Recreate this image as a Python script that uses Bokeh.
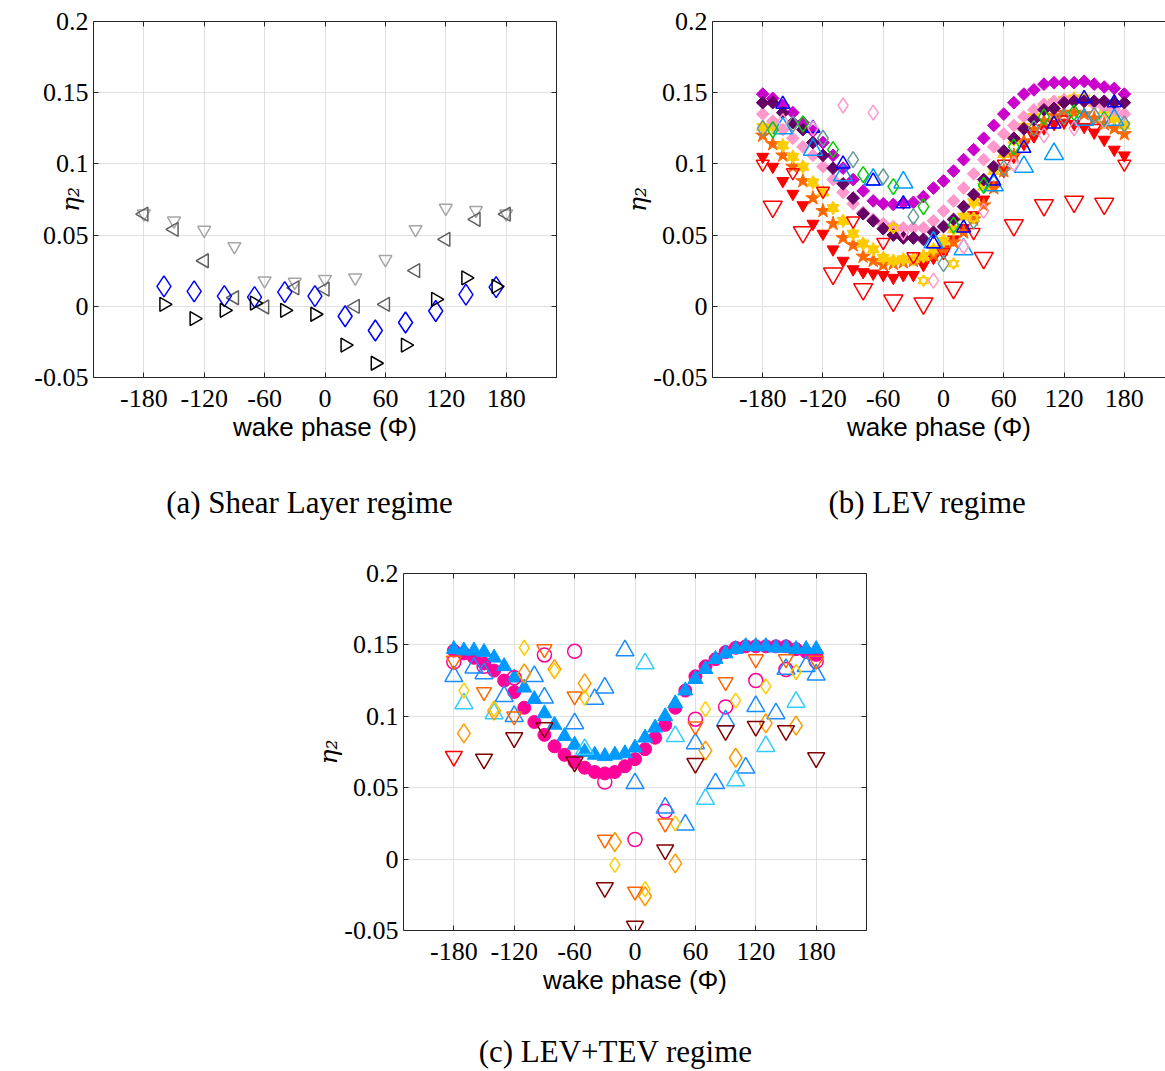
import numpy as np
from bokeh.plotting import figure
from bokeh.layouts import column, row
from bokeh.models import FixedTicker, LinearAxis, Range1d
from bokeh.embed import file_html
from bokeh.resources import INLINE

# ---------------- ticks ----------------
XT = [-180, -120, -60, 0, 60, 120, 180]
XT_LABELS = ["-180", "-120", "-60", "0", "60", "120", "180"]
YT = [-0.05, 0, 0.05, 0.1, 0.15, 0.2]
YT_LABELS = ["-0.05", "0", "0.05", "0.1", "0.15", "0.2"]

# ---------------- panel (a) data ----------------
A_PHI30 = [-180, -150, -120, -90, -60, -30, 0, 30, 60, 90, 120, 150, 180]
A_GRAY_DOWN = [0.065, 0.060, 0.0535, 0.042, 0.018, 0.017, 0.019, 0.020, 0.033, 0.054, 0.069, 0.0675, 0.065]
A_GRAY_LEFT = [0.0647, 0.054, 0.032, 0.006, -0.0005, 0.013, 0.012, 0.0, 0.0014, 0.025, 0.047, 0.061, 0.0647]
A_PHI_SHIFT = [-160, -130, -100, -70, -40, -10, 20, 50, 80, 110, 140, 170]
A_BLUE_DIAMOND = [0.014, 0.0105, 0.0072, 0.0065, 0.010, 0.0072, -0.007, -0.017, -0.0114, -0.0033, 0.0082, 0.0135]
A_BLACK_RIGHT = [0.0014, -0.0086, -0.0028, 0.0023, -0.0028, -0.0056, -0.0272, -0.040, -0.0272, 0.0049, 0.020, 0.014]

# ---------------- panel (b) data ----------------
B_PHI10 = list(range(-180, 181, 10))
B_MAGENTA = [0.149, 0.146, 0.141, 0.136, 0.129, 0.123, 0.115, 0.106, 0.097, 0.089, 0.081, 0.074, 0.072,
             0.0715, 0.0725, 0.073, 0.077, 0.083, 0.088, 0.095, 0.103, 0.110, 0.118, 0.127, 0.135, 0.143,
             0.149, 0.152, 0.156, 0.157, 0.157, 0.157, 0.158, 0.156, 0.154, 0.153, 0.149]
B_PURPLE = [0.143, 0.143, 0.136, 0.129, 0.124, 0.115, 0.106, 0.097, 0.086, 0.076, 0.065, 0.060, 0.0545,
            0.050, 0.048, 0.048, 0.047, 0.052, 0.056, 0.061, 0.070, 0.0785, 0.089, 0.098, 0.109, 0.118,
            0.1246, 0.131, 0.138, 0.139, 0.143, 0.144, 0.144, 0.144, 0.144, 0.143, 0.143]
B_PINK = [0.135, 0.130, 0.124, 0.118, 0.112, 0.106, 0.098, 0.089, 0.080, 0.072, 0.066, 0.061, 0.058,
          0.056, 0.055, 0.055, 0.055, 0.060, 0.067, 0.074, 0.083, 0.093, 0.103, 0.112, 0.121, 0.127,
          0.133, 0.138, 0.142, 0.144, 0.145, 0.145, 0.144, 0.142, 0.140, 0.138, 0.135]
B_GOLD = [0.126, 0.126, 0.113, 0.105, 0.098, 0.087, 0.080, 0.069, 0.060, 0.051, 0.044, 0.040, 0.034,
          0.032, 0.033, 0.033, 0.035, 0.040, 0.046, 0.054, 0.063, 0.073, 0.084, 0.095, 0.107, 0.117,
          0.126, 0.133, 0.139, 0.143, 0.145, 0.146, 0.146, 0.143, 0.138, 0.132, 0.127]
B_ORANGE = [0.120, 0.114, 0.106, 0.098, 0.088, 0.076, 0.067, 0.058, 0.048, 0.043, 0.035, 0.032, 0.029,
            0.030, 0.031, 0.032, 0.035, 0.036, 0.040, 0.045, 0.052, 0.061, 0.071, 0.083, 0.095, 0.106,
            0.116, 0.124, 0.130, 0.134, 0.136, 0.136, 0.135, 0.132, 0.128, 0.125, 0.121]
B_RED = [0.105, 0.098, 0.088, 0.079, 0.071, 0.058, 0.051, 0.040, 0.032, 0.026, 0.024, 0.023, 0.022,
         0.020, 0.022, 0.022, 0.029, 0.034, 0.040, 0.047, 0.055, 0.064, 0.075, 0.085, 0.095, 0.105,
         0.114, 0.120, 0.125, 0.128, 0.129, 0.128, 0.126, 0.122, 0.117, 0.110, 0.106]
B_PHI_RED_BIG = [-170, -140, -110, -80, -50, -20, 10, 40, 70, 100, 130, 160]
B_RED_BIG = [0.070, 0.052, 0.023, 0.012, 0.004, 0.002, 0.013, 0.034, 0.057, 0.071, 0.0735, 0.072]
B_PHI30 = [-180, -150, -120, -90, -60, -30, 0, 30, 60, 90, 120, 150, 180]
B_RED_SMALL = [0.100, 0.094, 0.081, 0.060, 0.045, 0.035, 0.038, 0.052, 0.100, 0.120, 0.131, 0.125, 0.100]
B_PHI_TRI = [-160, -130, -100, -70, -40, -10, 20, 50, 80, 110, 140, 170]
B_BLUE_TRI = [0.142, 0.125, 0.100, 0.088, 0.072, 0.044, 0.055, 0.088, 0.111, 0.128, 0.146, 0.143]
B_LBLUE_TRI = [0.125, 0.110, 0.092, 0.089, 0.087, 0.045, 0.040, 0.085, 0.098, 0.107, 0.131, 0.131]
B_PHI_GREEN = [-170, -140, -110, -80, -50, -20, 10, 40, 70, 100, 130, 160]
B_GREEN_DIA = [0.124, 0.128, 0.110, 0.0925, 0.084, 0.070, 0.057, 0.085, 0.112, 0.133, 0.136, 0.131]
B_TEAL_DIA = [0.125, 0.128, 0.118, 0.103, 0.091, 0.063, 0.030, 0.060, 0.097, 0.125, 0.133, 0.134, 0.128]
B_PHI_PINKD = [-160, -130, -100, -70, -40, -10, 20, 40, 70, 100, 130, 160]
B_PINK_DIA = [0.130, 0.125, 0.141, 0.136, 0.052, 0.018, 0.042, 0.067, 0.100, 0.120, 0.125, 0.130]
B_PHI_GOLD_OPEN = [-50, -20, 10, 30]
B_GOLD_OPEN = [0.055, 0.018, 0.030, 0.062]

# ---------------- panel (c) data ----------------
C_PHI10 = list(range(-180, 181, 10))
C_PINK_DOT = [0.146, 0.144, 0.141, 0.137, 0.132, 0.125, 0.117, 0.106, 0.096, 0.087, 0.079, 0.073, 0.068,
              0.064, 0.061, 0.060, 0.061, 0.065, 0.070, 0.077, 0.085, 0.094, 0.106, 0.118, 0.128, 0.135,
              0.140, 0.145, 0.148, 0.149, 0.149, 0.149, 0.149, 0.149, 0.147, 0.145, 0.143]
C_BLUE_TRI_FILLED = [0.147, 0.146, 0.146, 0.145, 0.141, 0.135, 0.127, 0.120, 0.112, 0.102, 0.094, 0.086,
                     0.080, 0.075, 0.073, 0.072, 0.073, 0.074, 0.078, 0.085, 0.092, 0.100, 0.109, 0.118,
                     0.126, 0.133, 0.140, 0.144, 0.147, 0.149, 0.149, 0.149, 0.148, 0.148, 0.147, 0.147, 0.147]
C_PHI30 = [-180, -150, -120, -90, -60, -30, 0, 30, 60, 90, 120, 150, 180]
C_CIRCLE = [0.138, 0.135, 0.127, 0.143, 0.1455, 0.054, 0.0137, 0.0335, 0.098, 0.1066, 0.125, 0.1327, 0.1385]
C_PHI_BTRI = [-180, -160, -150, -130, -120, -100, -90, -60, -40, -30, -10, 0, 30, 50, 60, 80, 90, 110, 120, 140, 150, 170, 180]
C_BLUE_TRI_OPEN = [0.128, 0.134, 0.130, 0.114, 0.100, 0.128, 0.113, 0.095, 0.112, 0.120, 0.146, 0.053,
                   0.036, 0.024, 0.081, 0.053, 0.097, 0.064, 0.107, 0.102, 0.133, 0.135, 0.129]
C_PHI_CTRI = [-170, -140, -50, 10, 40, 70, 100, 130, 160]
C_CYAN_TRI_OPEN = [0.109, 0.102, 0.077, 0.137, 0.086, 0.042, 0.055, 0.079, 0.110]
C_PHI_DIA = [-170, -140, -110, -80, -50, -20, 10, 40, 70, 100, 130, 160]
C_ORANGE_DIA = [0.088, 0.104, 0.130, 0.133, 0.123, 0.012, -0.026, -0.003, 0.076, 0.071, 0.095, 0.0935]
C_GOLD_DIA = [0.118, 0.105, 0.148, 0.132, 0.113, -0.004, -0.021, 0.025, 0.105, 0.111, 0.121, 0.131]
C_ORANGE_DOWN = [0.139, 0.117, 0.100, 0.147, 0.114, 0.0137, -0.0227, 0.025, 0.093, 0.124, 0.140, 0.140, 0.139]
C_PHI_DARK = [-150, -120, -90, -60, -30, 0, 30, 60, 90, 120, 150, 180]
C_DARKRED_DOWN = [0.070, 0.085, 0.092, 0.068, -0.020, -0.047, 0.0065, 0.067, 0.090, 0.093, 0.090, 0.071]
C_PHI_RED = [-180]
C_RED_DOWN = [0.072]

CAPTIONS = ["(a) Shear Layer regime", "(b) LEV regime", "(c) LEV+TEV regime"]

AX = "#262626"
GRID = "#e0e0e0"
TICK_FONT = "Liberation Serif"
FS = "26px"
NB = "\u00a0"


def box_axis(ticks):
    return LinearAxis(ticker=FixedTicker(ticks=ticks), major_label_text_font_size="1px",
                      major_label_text_color=None, major_tick_in=5, major_tick_out=0,
                      axis_line_color=AX, major_tick_line_color=AX,
                      minor_tick_line_color=None, major_label_standoff=0)


def caption_axis(text, pad, standoff):
    return LinearAxis(ticker=FixedTicker(ticks=[]), axis_line_color=None, major_tick_line_color=None,
                      minor_tick_line_color=None, major_tick_in=0, major_tick_out=0,
                      major_label_standoff=0, major_label_text_font_size="1px",
                      major_label_text_color=None,
                      axis_label=text + NB * pad, axis_label_standoff=standoff,
                      axis_label_text_font="Liberation Serif", axis_label_text_font_size="31px",
                      axis_label_text_font_style="normal", axis_label_text_color="black")


def panel(width, height, bl, br, bt, bb, x_end, caption, pad, cap_standoff, ylab_standoff, right_axis=True):
    p = figure(width=width, height=height, x_range=Range1d(-230, x_end), y_range=Range1d(-0.05, 0.2),
               output_backend="svg", toolbar_location=None, title=None,
               min_border_left=bl, min_border_right=br, min_border_top=bt, min_border_bottom=bb)
    p.outline_line_color = None
    p.background_fill_color = "white"
    p.border_fill_color = "white"
    xa = p.xaxis[0]
    ya = p.yaxis[0]
    xa.ticker = FixedTicker(ticks=XT)
    ya.ticker = FixedTicker(ticks=YT)
    p.xgrid[0].ticker = xa.ticker
    p.ygrid[0].ticker = ya.ticker
    p.xgrid.grid_line_color = GRID
    p.ygrid.grid_line_color = GRID
    xa.major_label_overrides = dict(zip(XT, XT_LABELS))
    ya.major_label_overrides = dict(zip(YT, YT_LABELS))
    for ax in (xa, ya):
        ax.axis_line_color = AX
        ax.major_tick_line_color = AX
        ax.major_tick_in = 5
        ax.major_tick_out = 0
        ax.minor_tick_line_color = None
        ax.major_label_text_font = TICK_FONT
        ax.major_label_text_font_size = FS
        ax.major_label_text_color = "black"
    xa.major_label_standoff = 12
    ya.major_label_standoff = 5
    xa.axis_label = "wake phase (Φ)"
    xa.axis_label_text_font = "Liberation Sans"
    xa.axis_label_text_font_style = "normal"
    xa.axis_label_text_font_size = "26px"
    xa.axis_label_text_color = "black"
    xa.axis_label_standoff = 2
    ya.axis_label = "η₂"
    ya.axis_label_text_font = "DejaVu Serif"
    ya.axis_label_text_font_style = "italic"
    ya.axis_label_text_font_size = "25px"
    ya.axis_label_text_color = "black"
    ya.axis_label_standoff = ylab_standoff

    p.add_layout(box_axis(XT), "above")
    if right_axis:
        p.add_layout(box_axis(YT), "right")
    p.add_layout(caption_axis(caption, pad, cap_standoff), "below")
    return p


def open_m(p, x, y, marker, color, size, angle=0.0):
    p.scatter(x, y, marker=marker, size=size, fill_color=None, line_color=color, line_width=1.5, angle=angle)


def filled_m(p, x, y, marker, color, size, angle=0.0):
    p.scatter(x, y, marker=marker, size=size, fill_color=color, line_color=color, line_width=1, angle=angle)


# ---------- (a) ----------
pa = panel(612, 540, 93, 56, 19, 163, 230, CAPTIONS[0], 4, 40, -54)
open_m(pa, A_PHI30, A_GRAY_DOWN, "inverted_triangle", "#a6a6a6", 13)
open_m(pa, A_PHI30, A_GRAY_LEFT, "triangle", "#606060", 14, angle=np.pi / 2)
open_m(pa, A_PHI_SHIFT, A_BLUE_DIAMOND, "diamond", "#0000ff", 21)
open_m(pa, A_PHI_SHIFT, A_BLACK_RIGHT, "triangle", "#000000", 14, angle=-np.pi / 2)

# ---------- (b) ----------
pb = panel(553, 540, 100, 0, 21, 163, 221, CAPTIONS[1], 3, 40, -2, right_axis=False)
filled_m(pb, B_PHI10, B_RED, "inverted_triangle", "#ff0000", 12)
filled_m(pb, B_PHI10, B_ORANGE, "star", "#ff6600", 15)
filled_m(pb, B_PHI10, B_GOLD, "triangle", "#ffcc00", 12)
filled_m(pb, B_PHI10, B_GOLD, "inverted_triangle", "#ffcc00", 12)
filled_m(pb, B_PHI10, B_PINK, "square", "#ff99cc", 9, angle=np.pi / 4)
filled_m(pb, B_PHI10, B_MAGENTA, "square", "#cc00cc", 9, angle=np.pi / 4)
filled_m(pb, B_PHI10, B_PURPLE, "square", "#660066", 9, angle=np.pi / 4)
open_m(pb, B_PHI_RED_BIG, B_RED_BIG, "inverted_triangle", "#ff0000", 19)
open_m(pb, B_PHI30, B_RED_SMALL, "inverted_triangle", "#ff0000", 13)
open_m(pb, B_PHI_TRI, B_LBLUE_TRI, "triangle", "#0099ff", 19)
open_m(pb, B_PHI_TRI, B_BLUE_TRI, "triangle", "#0000ff", 14)
open_m(pb, B_PHI_GREEN, B_GREEN_DIA, "diamond", "#00cc00", 16)
open_m(pb, B_PHI30, B_TEAL_DIA, "diamond", "#669999", 16)
open_m(pb, B_PHI_PINKD, B_PINK_DIA, "diamond", "#ff99cc", 15)
open_m(pb, B_PHI_GOLD_OPEN, B_GOLD_OPEN, "triangle", "#ffcc00", 10)
open_m(pb, B_PHI_GOLD_OPEN, B_GOLD_OPEN, "inverted_triangle", "#ffcc00", 10)

# ---------- (c) ----------
pc = panel(916, 531, 403, 50, 33, 141, 230, CAPTIONS[2], 5, 36, -2)
filled_m(pc, C_PHI10, C_PINK_DOT, "circle", "#ff0099", 13)
filled_m(pc, C_PHI10, C_BLUE_TRI_FILLED, "triangle", "#0099ff", 15)
open_m(pc, C_PHI30, C_CIRCLE, "circle", "#ff0099", 14)
open_m(pc, C_PHI_BTRI, C_BLUE_TRI_OPEN, "triangle", "#1a8cff", 18)
open_m(pc, C_PHI_CTRI, C_CYAN_TRI_OPEN, "triangle", "#33ccff", 18)
open_m(pc, C_PHI_DIA, C_ORANGE_DIA, "diamond", "#ff9900", 19)
open_m(pc, C_PHI_DIA, C_GOLD_DIA, "diamond", "#ffcc00", 15)
open_m(pc, C_PHI30, C_ORANGE_DOWN, "inverted_triangle", "#ff6600", 15)
open_m(pc, C_PHI_DARK, C_DARKRED_DOWN, "inverted_triangle", "#800000", 17)
open_m(pc, C_PHI_RED, C_RED_DOWN, "inverted_triangle", "#ff0000", 17)

layout = column(row(pa, pb), pc)
open("out.html", "w").write(file_html(layout, INLINE))
